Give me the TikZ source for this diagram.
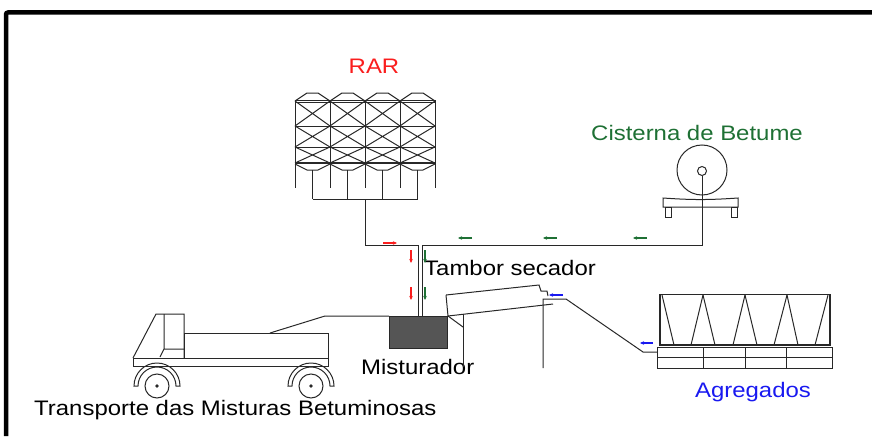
\documentclass[tikz,border=0pt]{standalone}
\usepackage{fontspec}
\newfontfamily\labelfont{Liberation Sans}[FakeStretch=1.14]
\usetikzlibrary{arrows.meta, positioning}

\definecolor{rarred}{RGB}{250,30,30}
\definecolor{betgreen}{RGB}{30,112,52}
\definecolor{aggblue}{RGB}{25,25,240}
\definecolor{mixgray}{RGB}{85,85,85}
\definecolor{linegray}{RGB}{40,40,40}

\begin{document}
\begin{tikzpicture}[
   x=1pt, y=-1pt,
   part/.style = {draw=linegray, line width=1pt},
   heavy/.style = {draw=linegray, line width=2pt},
   lbl/.style = {inner sep=0pt, font=\labelfont\fontsize{21}{24}\selectfont},
   flow/.style = {-{Stealth[length=4pt, width=3.5pt]}, line width=1.1pt}]
   \useasboundingbox (0,0) rectangle (872,436);

   % frame
   \draw[line width=4.5pt, rounded corners=2pt] (6,436) -- (6,12.5) -- (872,12.5);

   % labels
   \node[lbl, text=rarred]   (rar)    at (374,66)  {RAR};
   \node[lbl, text=betgreen] (cist)   at (697,133) {Cisterna de Betume};
   \node[lbl, anchor=west]   (tambor) at (424,268) {Tambor secador};
   \node[lbl, anchor=west]   (mist)   at (361,367) {Misturador};
   \node[lbl, text=aggblue]  (agreg)  at (753,392) {Agregados};
   \node[lbl, anchor=west]   (transp) at (34,410)  {Transporte das Misturas Betuminosas};

   % RAR silos
   \foreach \x in {295,330,365,400} {
      \draw[part] (\x,101) -- (\x+12,93) -- (\x+23,93) -- (\x+35,101);
      \foreach \a/\b in {101/126, 126/147, 147/163}
         \draw[part] (\x,\a) -- (\x+35,\b) (\x,\b) -- (\x+35,\a);
      \draw[part] (\x,164) -- (\x+12,170) -- (\x+23,170) -- (\x+35,164);
      \draw[part] (\x+17.5,170) -- (\x+17.5,199);
   }
   \foreach \x in {295,330,...,435}
      \draw[part] (\x,100) -- (\x,188);
   \draw[part] (295,100) -- (435,100) (295,102.5) -- (435,102.5);
   \draw[part] (295,126) -- (435,126) (295,147) -- (435,147);
   \draw[heavy] (295,163) -- (435,163);
   \draw[part] (312.5,199) -- (417.5,199);

   \coordinate (rarout) at (365,199);
   \coordinate (rarjoin) at (418,245);
   \coordinate (betjoin) at (422,245);

   % bitumen tank
   \draw[part] (702,170) circle (25);
   \node[circle, part, minimum size=9pt, inner sep=0pt] (hub) at (702,171) {};
   \draw[part] (663,198) to[bend right=4] (738,198) -- (738,207) -- (663,207) -- cycle;
   \draw[part] (665,207) rectangle (671,217) (731,207) rectangle (737,217);
   \coordinate (betout) at (702,245);

   % feed pipes
   \draw[part] (rarout) |- (rarjoin) -- ++(0,71);
   \draw[part] (hub.south) -- (betout) -- (betjoin) -- ++(0,71);

   % mixer
   \node[part, fill=mixgray, minimum width=58pt, minimum height=32pt,
         inner sep=0pt, anchor=north west] (mixer) at (389,316) {};

   % drying drum with supports
   \draw[part] (mixer.north east) ++(-2,-21) coordinate (drumtl)
      -- (539,285) -- (541,291) -- (547,291) -- (548,296);
   \draw[part] (drumtl) -- (mixer.north east) -- (553,304);
   \draw[part] (mixer.north east) -- (463,327);
   \draw[part] (463,314) -- (463,367);
   \draw[part] (543,368) -- (543,299) -- (566,299) -- (643,352) -- (657,352);

   % aggregate bins
   \draw[part] (657,347) rectangle (832,368);
   \draw[part] (657,357) -- (832,357);
   \foreach \x in {703,745,786}
      \draw[part] (\x,347) -- (\x,368);
   \draw[heavy] (660,294) -- (660,346) (830,294) -- (830,346) (660,345) -- (830,345);
   \draw[part] (660,294) -- (830,294);
   \foreach \t/\b in {662/674, 703/691, 745/733, 787/774}
      \draw[part] (\t,295) -- (\b,345);
   \foreach \t/\b in {703/715, 745/757, 787/798, 828/815}
      \draw[part] (\t,295) -- (\b,345);

   % truck
   \draw[part] (133,358) rectangle (328,366);
   \draw[part] (184,333) rectangle (328,358);
   \draw[part] (133,358) -- (156,314) -- (184,314) -- (184,358);
   \draw[part] (160,357) -- (164,349) -- (164,314) (164,349) -- (184,349);
   \foreach \c in {157,311} {
      \draw[part] (\c,386) circle (12);
      \fill[linegray] (\c,386) circle (1.8);
      \draw[part] (\c-23,386) arc (180:360:23) -- ++(-4,0) arc (360:180:19) -- cycle;
   }
   \draw[part] (270,333) -- (325,316) -- (mixer.north west);

   % flow arrows
   \draw[flow, rarred] (383,243) -- (397,243);
   \draw[flow, rarred] (411,250) -- (411,263);
   \draw[flow, rarred] (411,287) -- (411,300);
   \draw[flow, betgreen] (425,250) -- (425,263);
   \draw[flow, betgreen] (425,287) -- (425,300);
   \foreach \x in {472,557,647}
      \draw[flow, betgreen] (\x,238) -- (\x-14,238);
   \draw[flow, aggblue] (563,295) -- (549,295);
   \draw[flow, aggblue] (653,343) -- (640,343);
\end{tikzpicture}
\end{document}
